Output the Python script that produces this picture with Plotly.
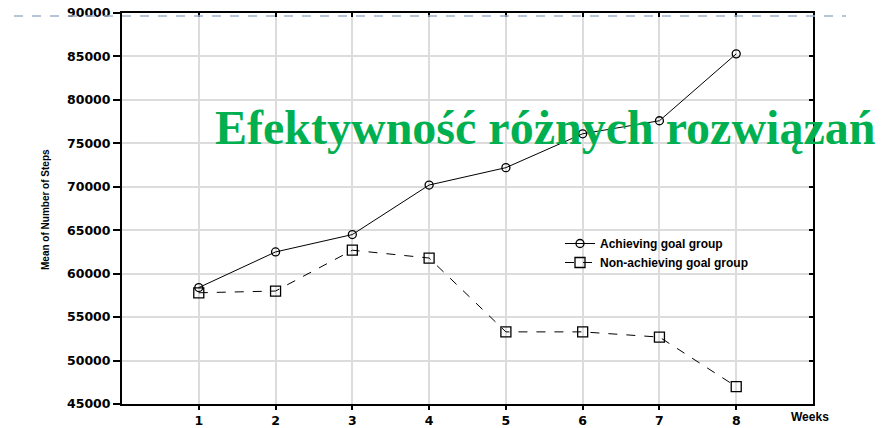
import plotly.graph_objects as go

weeks = [1, 2, 3, 4, 5, 6, 7, 8]
achieving = [58400, 62500, 64500, 70200, 72200, 76100, 77600, 85300]
non_achieving = [57800, 58000, 62700, 61800, 53300, 53300, 52700, 47000]
y_ticks = [45000, 50000, 55000, 60000, 65000, 70000, 75000, 80000, 85000, 90000]
series_names = ["Achieving goal group", "Non-achieving goal group"]
title_text = "Efektywność różnych rozwiązań"
y_title = "Mean of Number of Steps"
x_title = "Weeks"

W, H = 885, 428
L, R, T, B = 122, 72, 13, 24
pw, ph = W - L - R, H - T - B
plot_left, plot_bottom = L, H - B


def px(sx):
    return (sx - plot_left) / pw


def py(sy):
    return (plot_bottom - sy) / ph


fig = go.Figure()
fig.add_trace(go.Scatter(
    x=weeks, y=achieving, name=series_names[0], mode="lines+markers",
    line=dict(color="black", width=1),
    marker=dict(symbol="circle-open", size=8, color="black", line=dict(width=1.3)),
))
fig.add_trace(go.Scatter(
    x=weeks, y=non_achieving, name=series_names[1], mode="lines+markers",
    line=dict(color="black", width=1, dash="dash"),
    marker=dict(symbol="square-open", size=10, color="black", line=dict(width=1.3)),
))

tickfont = dict(family="DejaVu Sans", size=12.5, color="black", weight="bold")

fig.update_layout(
    width=W, height=H,
    margin=dict(l=L, r=R, t=T, b=B, autoexpand=False),
    paper_bgcolor="white", plot_bgcolor="white",
    showlegend=True,
    legend=dict(x=px(560), y=py(229), xanchor="left", yanchor="top",
                bgcolor="rgba(0,0,0,0)", tracegroupgap=0,
                font=dict(family="Liberation Sans", size=12, color="black", weight="bold")),
    xaxis=dict(range=[0, 9], tickvals=weeks, ticktext=[str(w) for w in weeks],
               showgrid=True, gridcolor="#dcdcdc", gridwidth=1.5, automargin=False,
               showline=True, linecolor="black", linewidth=2, ticklabeloverflow="allow",
               ticks="outside", ticklen=4, tickcolor="black", tickwidth=1.5,
               tickfont=tickfont, zeroline=False),
    yaxis=dict(range=[45000, 90000], tickvals=y_ticks, ticktext=[str(v) for v in y_ticks],
               showgrid=True, gridcolor="#dcdcdc", gridwidth=1.5, automargin=False,
               showline=True, linecolor="black", linewidth=2, ticklabeloverflow="allow",
               ticks="outside", ticklen=7, tickcolor="black", tickwidth=1.5,
               tickfont=tickfont, zeroline=False),
    xaxis2=dict(range=[0, 9], overlaying="x", side="top", tickvals=weeks, automargin=False,
                showticklabels=False, showgrid=False, showline=True, linecolor="black",
                linewidth=2, ticks="inside", ticklen=4, tickcolor="black", tickwidth=1.5,
                zeroline=False),
    yaxis2=dict(range=[45000, 90000], overlaying="y", side="right", tickvals=y_ticks,
                automargin=False,
                showticklabels=False, showgrid=False, showline=True, linecolor="black",
                linewidth=2, ticks="inside", ticklen=4, tickcolor="black", tickwidth=1.5,
                zeroline=False),
)

# invisible trace to activate secondary axes
fig.add_trace(go.Scatter(x=[None], y=[None], xaxis="x2", yaxis="y2", showlegend=False,
                         hoverinfo="skip"))

fig.add_annotation(text=x_title, xref="paper", yref="paper",
                   x=px(810), y=py(417), xanchor="center", yanchor="middle",
                   showarrow=False,
                   font=dict(family="Liberation Sans", size=12, color="black", weight="bold"))
fig.add_annotation(text=y_title, xref="paper", yref="paper",
                   x=px(45), y=py(210), xanchor="center", yanchor="middle",
                   textangle=-90, showarrow=False,
                   font=dict(family="Liberation Sans", size=10, color="black", weight="bold"))
fig.add_annotation(text=title_text, xref="paper", yref="paper",
                   x=px(213), y=py(128), xanchor="left", yanchor="middle",
                   showarrow=False,
                   font=dict(family="Liberation Serif", size=48, color="#00b050", weight="bold"))

fig.add_shape(type="line", xref="paper", yref="paper",
              x0=px(14), x1=px(846), y0=py(16), y1=py(16),
              line=dict(color="#9fb4cc", width=1.5, dash="dash"))

fig.write_html("out.html", config={"displayModeBar": False},
               post_script="document.body.style.margin='0';document.body.style.overflow='hidden';")
